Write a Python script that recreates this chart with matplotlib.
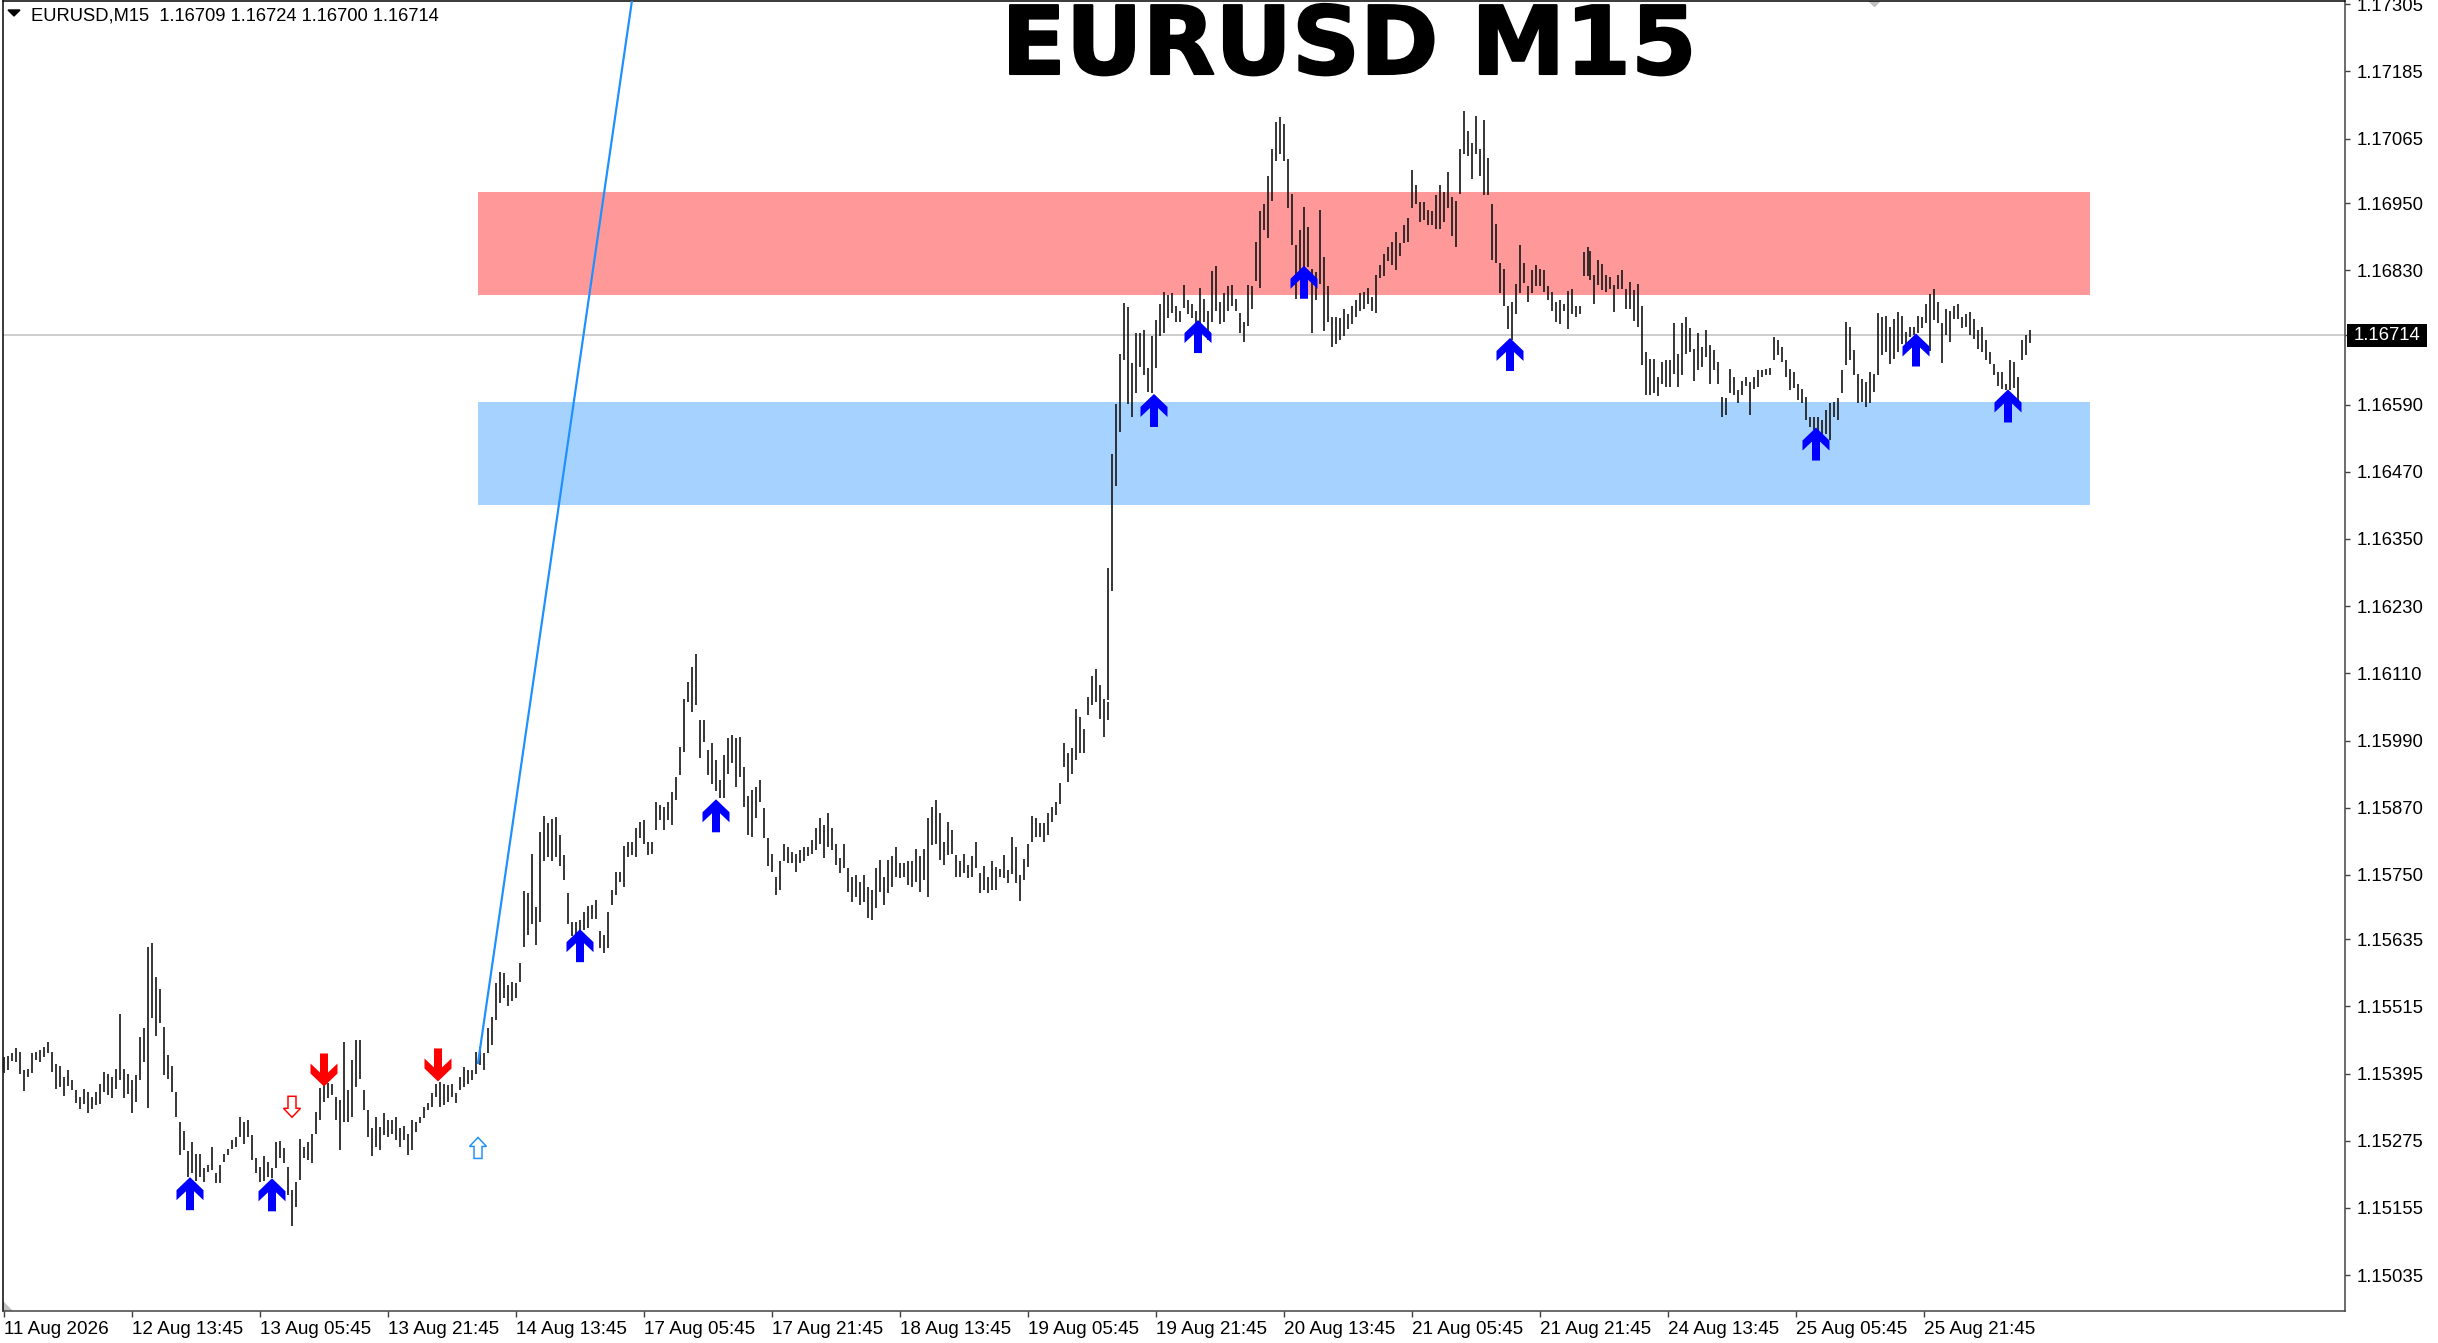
import numpy as np
import matplotlib
matplotlib.use("Agg")
import matplotlib.pyplot as plt
from matplotlib.path import Path
from matplotlib.patches import PathPatch, Rectangle, Polygon
from matplotlib.transforms import Affine2D
import matplotlib.patheffects as pe

plt.rcParams['font.family'] = ['Liberation Sans', 'DejaVu Sans']

# bars are read every second M15 bar, prices in points above 1.15000
base = 1.15
start_a = 0
high_a = [425,426,431,440,433,401,404,432,434,437,443,451,433,413,409,389,402,383,366,354,368,363,354,363,377,398,395,389,404,501,403,394,383,392,460,477,621,629,568,547,479,429,409,363,309,293,257,273,252,252,226,232,264,217,232,252,261,276,282,317,309,313,285,244,229,247,238,226,272,275,263,229,187,202,279,264,273,288,327,369,374,379,377,354,348,452,366,419,455,455,366,330,297,318,300,324,312,312,317,297,301,288,313,309,318,336,343,360,377,380,377,374,377,360,389,406,401,401,434,443,431,476,496,556]
low_a = [396,401,418,415,394,364,389,396,419,416,424,431,398,368,371,355,373,366,342,332,341,325,332,339,340,363,357,351,367,383,351,358,325,345,383,416,333,495,463,485,392,385,363,318,250,258,211,217,204,211,202,220,223,199,199,238,250,261,264,282,270,282,241,217,202,204,211,208,226,244,235,178,122,157,205,244,241,235,288,312,345,351,357,312,258,309,309,318,371,386,330,282,247,264,258,285,282,288,276,264,276,250,258,291,306,315,330,336,354,336,339,345,354,342,366,371,377,383,395,410,401,431,446,490]

start_b = 248
high_b = [577,574,553,559,556,592,721,717,788,693,827,855,842,849,854,821,785,717,666,666,669,684,694,696,705,649,643,684,723,756,756,801,809,809,833,845,848,809,809,881,875,872,881,898,925,979,1064,1095,1122,1144,1026,1026,973,986,955,919,964,995,999,994,997,943,890,902,907,919,869,815,788,747,774,806,800,791,788,794,800,800,812,833,851,839,860,833,806,780,806,762,747,750,738,750,729,723,762,777,747,777,783,800,771,771,774,774,797,783,797,851,872,884,860,809,845,830,786,774,788,768,783,809,753,765,747,774,764,761,785,758,818,800,749,779,806,855,851,842,842,860,871,880,914,985,967,977,1046,1032,1010,1068,1106,1118,1089,1065,1059]
low_b = [521,530,515,524,530,559,622,643,663,625,666,774,782,774,782,765,741,663,640,640,649,652,655,672,672,619,611,619,696,714,738,729,782,785,782,815,806,785,788,830,848,830,848,839,884,928,970,1059,1041,1053,958,988,928,913,899,887,887,930,949,907,925,872,821,818,851,881,815,765,756,714,723,774,771,771,756,771,774,783,788,794,806,780,800,794,768,753,762,720,702,711,696,702,673,670,690,720,696,717,729,747,744,747,732,729,738,720,741,711,803,806,777,768,786,788,747,747,753,744,747,762,717,723,717,723,723,747,744,735,752,735,704,741,764,809,818,818,809,821,845,857,877,943,916,931,955,967,967,1035,1053,1059,1029,996,1026]

start_c = 552
high_c = [1298,1502,1591,1681,1771,1764,1664,1717,1718,1724,1656,1713,1741,1770,1792,1786,1789,1767,1757,1803,1776,1770,1757,1799,1779,1757,1829,1838,1773,1790,1802,1803,1779,1754,1738,1803,1802,1881,1936,1948,1998,2047,2094,2104,2091,2028,1967,1875,1901,1943,1907,1833,1827,1937,1854,1802,1747,1747,1744,1760,1751,1767,1776,1789,1792,1799,1783,1822,1839,1859,1872,1881,1898,1878,1910,1923,2009,1983,1951,1951,1938,1936,1964,1983,1970,2006,1961,1954,2047,2114,2078,2057,2106,2047,2098,2031,1948,1913,1843,1833,1767,1773,1805,1875,1843,1802,1830,1839,1833,1830,1802,1792,1773,1776,1770,1793,1797,1767,1767,1862,1872]
low_c = [1062,1257,1444,1541,1669,1591,1568,1610,1658,1642,1613,1610,1655,1712,1718,1744,1754,1738,1738,1763,1751,1744,1725,1734,1738,1706,1738,1757,1734,1738,1757,1767,1757,1718,1701,1731,1760,1811,1799,1901,1888,1954,2025,2038,2025,1941,1875,1779,1827,1836,1836,1718,1776,1805,1722,1738,1693,1699,1706,1712,1725,1734,1747,1757,1760,1770,1757,1754,1817,1820,1846,1839,1830,1856,1878,1881,1942,1948,1917,1920,1910,1910,1904,1904,1917,1942,1891,1871,1967,2038,2034,1993,2038,1999,1964,1964,1849,1843,1789,1767,1725,1706,1751,1789,1808,1773,1789,1802,1802,1792,1776,1757,1738,1734,1757,1725,1751,1747,1751,1820,1820]

start_d = 793
high_d = [1865,1821,1849,1842,1821,1818,1803,1821,1830,1797,1809,1794,1806,1767,1684,1672,1672,1639,1666,1669,1669,1735,1681,1735,1747,1726,1690,1717,1693,1723,1696,1687,1666,1604,1601,1654,1639,1616,1633,1639,1630,1639,1651,1651,1654,1656,1710,1705,1693,1669,1654,1648,1627,1618,1604,1568,1568,1568,1562,1580,1592,1595,1601,1651,1737,1729,1687,1645,1635,1630,1648,1645,1754,1746,1749,1729,1743,1755,1749,1720,1729,1729,1749,1746,1770,1788,1796,1773,1735,1760,1758,1767,1770,1746,1752,1755,1743,1723,1729,1705,1684,1663,1648,1648,1627,1669,1666,1639,1705,1714,1724]
low_d = [1812,1770,1803,1794,1791,1797,1755,1797,1797,1761,1761,1740,1729,1660,1607,1607,1610,1605,1627,1621,1621,1645,1621,1642,1681,1684,1633,1651,1657,1675,1627,1651,1627,1568,1571,1610,1607,1592,1607,1624,1571,1618,1621,1639,1642,1642,1669,1678,1666,1639,1616,1619,1598,1592,1562,1550,1544,1538,1532,1538,1526,1568,1562,1610,1660,1669,1642,1592,1595,1586,1592,1613,1642,1678,1684,1663,1672,1684,1699,1699,1711,1714,1717,1726,1735,1686,1741,1735,1664,1714,1702,1743,1743,1726,1729,1714,1708,1690,1684,1669,1663,1642,1624,1618,1616,1616,1619,1598,1669,1678,1700]

up_bar = [93,134,288,356,575,597,650,753,906,956,1002]
up_pts = [210,208,653,885,1609,1741,1838,1709,1549,1717,1617]
down_bar = [160,217]
down_pts = [372,381]
open_down_bar = [144]
open_down_pts = [317]
open_up_bar = [237]
open_up_pts = [281]

trend_bar = [237,314]
trend_pts = [414,2312]

zone_bars = [237,1043]
red_zone = [1785,1969]
blue_zone = [1411,1594]
last_price = 1.16714

price_ticks = ["1.17305","1.17185","1.17065","1.16950","1.16830","1.16590","1.16470","1.16350","1.16230","1.16110","1.15990","1.15870","1.15750","1.15635","1.15515","1.15395","1.15275","1.15155","1.15035"]
time_labels = ["11 Aug 2026","12 Aug 13:45","13 Aug 05:45","13 Aug 21:45","14 Aug 13:45","17 Aug 05:45","17 Aug 21:45","18 Aug 13:45","19 Aug 05:45","19 Aug 21:45","20 Aug 13:45","21 Aug 05:45","21 Aug 21:45","24 Aug 13:45","25 Aug 05:45","25 Aug 21:45"]


def to_price(pts):
    return base + np.array(pts) / 1e5


W, H = 2438, 1343
fig = plt.figure(figsize=(W / 100, H / 100), dpi=100, facecolor='white')
ax = fig.add_axes([3 / W, 1 - 1311 / H, (2345 - 3) / W, (1311 - 0.5) / H])
ax.set_xlim(-0.5, 1170.5)
ax.set_ylim(to_price(-29), to_price(2311.8))
px = 72 / 100

# zones behind the bars
ax.fill_between(zone_bars, to_price(red_zone[0]), to_price(red_zone[1]), color='#ff9999', lw=0, zorder=1)
ax.fill_between(zone_bars, to_price(blue_zone[0]), to_price(blue_zone[1]), color='#a5d2ff', lw=0, zorder=1)
ax.axhline(last_price, color='#c0c0c0', lw=1.5 * px, zorder=2)

# price bars
for start, highs, lows in [(start_a, high_a, low_a), (start_b, high_b, low_b),
                           (start_c, high_c, low_c), (start_d, high_d, low_d)]:
    bars = start + 2 * np.arange(len(highs))
    ax.vlines(bars, to_price(lows), to_price(highs), color='#1a1a1a', lw=1.7 * px, zorder=3)

ax.plot(trend_bar, to_price(trend_pts), color='#1e90ff', lw=2.2 * px, zorder=4)

# arrows, paths in pixels with the tip at the origin
up_path = Path([(0, 0), (13.5, -13), (13.5, -23), (4, -14), (4, -33), (-4, -33),
                (-4, -14), (-13.5, -23), (-13.5, -13), (0, 0)], closed=True)
down_path = Path(np.array(up_path.vertices) * [1, -1], closed=True)
open_up = Path([(0, 0), (8.5, -9), (4, -9), (4, -21), (-4, -21), (-4, -9), (-8.5, -9), (0, 0)], closed=True)
open_down = Path(np.array(open_up.vertices) * [1, -1], closed=True)


def draw_arrow(bars, pts, path, face, edge, width):
    for b, p in zip(bars, pts):
        xp, yp = ax.transData.transform((b, to_price(p)))
        tr = Affine2D().translate(xp, yp)
        ax.add_patch(PathPatch(path, transform=tr, facecolor=face, edgecolor=edge,
                               lw=width, zorder=5, clip_on=False))


draw_arrow(up_bar, up_pts, up_path, '#0000ff', 'none', 0)
draw_arrow(down_bar, down_pts, down_path, '#ff0000', 'none', 0)
draw_arrow(open_down_bar, open_down_pts, open_down, 'white', '#ff0000', 1.5 * px)
draw_arrow(open_up_bar, open_up_pts, open_up, 'white', '#1e90ff', 1.5 * px)

# small grey marks on the chart edges
ax.plot([935], [to_price(2314)], marker='D', ms=7, color='#c0c0c0', zorder=2)
ax.fill([-0.5, -0.5, 4.5], to_price([-29, -11, -29]), color='#c0c0c0', lw=0, zorder=2)

# axes frame
for side in ['left', 'top']:
    ax.spines[side].set_color('black')
    ax.spines[side].set_linewidth(1.5 * px)
for side in ['right', 'bottom']:
    ax.spines[side].set_color('#404040')
    ax.spines[side].set_linewidth(1.5 * px)

ax.yaxis.tick_right()
ytick_vals = [float(t) for t in price_ticks] + [last_price]
ax.set_yticks(ytick_vals)
ax.set_yticklabels(price_ticks + [""], fontsize=13.3, color='black')
ax.tick_params(axis='y', length=3.5, width=1, color='#404040', pad=5)
xticks = 64 * np.arange(len(time_labels))
ax.set_xticks(xticks)
ax.set_xticklabels(time_labels, fontsize=13.6, color='black', ha='left')
ax.tick_params(axis='x', length=4, width=1, color='#404040', pad=3.5)

# current price box
fig.add_artist(Rectangle((2347 / W, 1 - 347 / H), 80 / W, 23 / H, transform=fig.transFigure,
                         facecolor='black', edgecolor='none'))
fig.text(2387 / W, 1 - 336 / H, "1.16714", fontsize=13.3, color='white', ha='center', va='center')

# header
fig.text(31 / W, 1 - 16 / H, "EURUSD,M15  1.16709 1.16724 1.16700 1.16714", fontsize=13.2,
         color='black', ha='left', va='center')
fig.add_artist(Polygon([(8 / W, 1 - 10 / H), (20 / W, 1 - 10 / H), (14 / W, 1 - 16 / H)],
                       transform=fig.transFigure, color='black'))

title = fig.text(1349 / W, 1 - 48 / H, "EURUSD M15", fontsize=68, fontweight='bold', color='black',
                 ha='center', va='center', family='DejaVu Sans')
title.set_path_effects([pe.withStroke(linewidth=1.5, foreground='black')])

fig.savefig('out.png', dpi=100)
